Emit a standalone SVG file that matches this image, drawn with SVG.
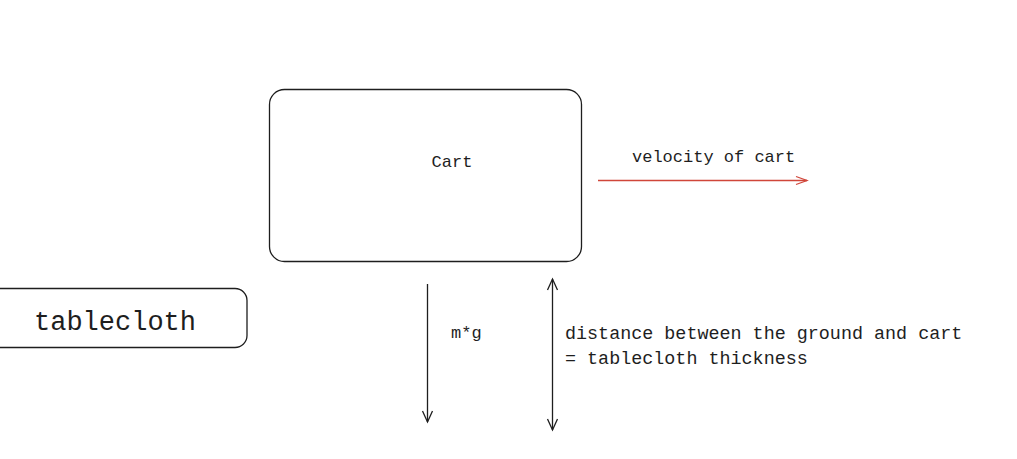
<svg xmlns="http://www.w3.org/2000/svg" width="1017" height="459" viewBox="0 0 1017 459">
<style>
.box{fill:#fff;stroke:#1e1e1e;stroke-width:1.3}
.t{font-family:"Liberation Mono","DejaVu Sans Mono",monospace;fill:#1e1e1e}
.ln{stroke:#1e1e1e;stroke-width:1.3;fill:none}
</style>
<defs>
<marker id="ah" markerWidth="14" markerHeight="14" refX="12" refY="7" orient="auto" markerUnits="userSpaceOnUse">
<path d="M1,2 L12,7 L1,12" fill="none" stroke="#1e1e1e" stroke-width="1.3"/>
</marker>
<marker id="ahs" markerWidth="14" markerHeight="14" refX="12" refY="7" orient="auto-start-reverse" markerUnits="userSpaceOnUse">
<path d="M1,2 L12,7 L1,12" fill="none" stroke="#1e1e1e" stroke-width="1.3"/>
</marker>
<marker id="ahr" markerWidth="14" markerHeight="14" refX="12" refY="7" orient="auto" markerUnits="userSpaceOnUse">
<path d="M1,3 L12,7 L1,11" fill="none" stroke="#d0463a" stroke-width="1.3"/>
</marker>
</defs>
<rect width="1017" height="459" fill="#fff"/>
<g id="cart">
<rect class="box" x="269.5" y="89.5" width="312" height="172" rx="15"/>
<text class="t" x="452" y="167" font-size="17" text-anchor="middle">Cart</text>
</g>
<g id="tablecloth">
<rect class="box" x="-20" y="288.5" width="267" height="59" rx="12"/>
<text class="t" x="115" y="330" font-size="27" text-anchor="middle">tablecloth</text>
</g>
<g id="connectors">
<line x1="598" y1="180.5" x2="807" y2="180.5" stroke="#d0463a" stroke-width="1.4" marker-end="url(#ahr)"/>
<line class="ln" x1="427.5" y1="284" x2="427.5" y2="422" marker-end="url(#ah)"/>
<line class="ln" x1="552.5" y1="279" x2="552.5" y2="430" marker-start="url(#ahs)" marker-end="url(#ahs)"/>
</g>
<g id="labels">
<text class="t" x="632" y="162" font-size="17">velocity of cart</text>
<text class="t" x="451" y="338" font-size="17">m*g</text>
<text class="t" x="565" y="339" font-size="18.4">distance between the ground and cart</text>
<text class="t" x="565" y="364" font-size="18.4">= tablecloth thickness</text>
</g>
</svg>
